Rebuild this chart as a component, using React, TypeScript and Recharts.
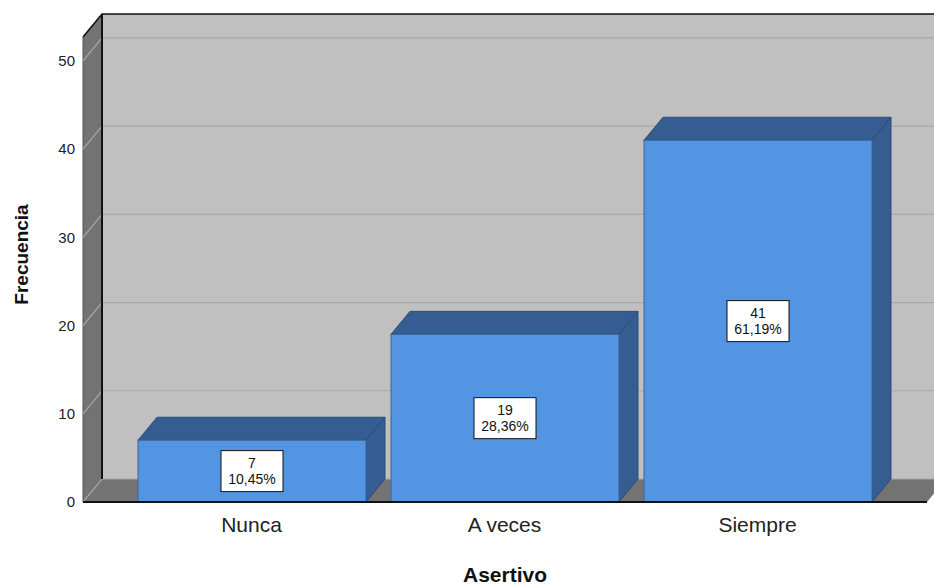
import * as React from 'react';
import { BarChart, Bar, XAxis, YAxis, ReferenceArea, LabelList } from 'recharts';

const categories = ['Nunca', 'A veces', 'Siempre'];
const counts = [7, 19, 41];
const percents = ['10,45%', '28,36%', '61,19%'];
const yTicks = [0, 10, 20, 30, 40, 50];
const yMax = 52.7;

const data = categories.map((name, i) => ({ name, value: counts[i] }));

// depth of the 3D box
const DX = 19;
const DY = 23;
const PAD_L = 42;
const PAD_R = 43;
const FONT = '"Liberation Sans", Arial, sans-serif';

function Walls(props: any) {
  // reference area spans the padded range; widen it back to the full plot
  const x = props.x - PAD_L;
  const width = props.width + PAD_L + PAD_R;
  const { y, height } = props;
  const bottom = y + height;
  const right = x + width;
  const pts = (arr: number[][]) => arr.map((p) => p.join(',')).join(' ');
  return (
    <g>
      <polygon
        points={pts([[x + DX, y - DY], [right + DX, y - DY], [right + DX, bottom - DY], [x + DX, bottom - DY]])}
        fill="#c0c0c0"
      />
      <polygon
        points={pts([[x, y], [x + DX, y - DY], [x + DX, bottom - DY], [x, bottom]])}
        fill="#737373"
        stroke="#555"
        strokeWidth={1}
      />
      <polygon
        points={pts([[x, bottom], [x + DX, bottom - DY], [right + DX, bottom - DY], [right, bottom]])}
        fill="#737373"
      />
      {yTicks.map((t) => {
        const yy = bottom - (t / yMax) * height;
        return (
          <polyline
            key={t}
            points={pts([[x, yy], [x + DX, yy - DY], [right + DX, yy - DY]])}
            fill="none"
            stroke="#a8a8a8"
            strokeWidth={1.2}
          />
        );
      })}
      <polyline
        points={pts([[x, y], [x + DX, y - DY], [right + DX, y - DY]])}
        fill="none"
        stroke="#111"
        strokeWidth={1.5}
      />
      <line x1={x + DX} y1={y - DY} x2={x + DX} y2={bottom - DY} stroke="#111" strokeWidth={2} />
    </g>
  );
}

function Bar3D(props: any) {
  const { x, y, width, height } = props;
  if (!height) return null;
  const pts = (arr: number[][]) => arr.map((p) => p.join(',')).join(' ');
  return (
    <g>
      <polygon
        points={pts([[x, y], [x + DX, y - DY], [x + width + DX, y - DY], [x + width, y]])}
        fill="#355d91"
        stroke="#2c4d78"
        strokeWidth={1}
      />
      <polygon
        points={pts([[x + width, y], [x + width + DX, y - DY], [x + width + DX, y + height - DY], [x + width, y + height]])}
        fill="#355d91"
        stroke="#2c4d78"
        strokeWidth={1}
      />
      <rect x={x} y={y} width={width} height={height} fill="#5394e3" stroke="#3a6496" strokeWidth={1} />
    </g>
  );
}

function BoxLabel(props: any) {
  const { x, y, width, height, index } = props;
  const cx = x + width / 2;
  const cy = y + height / 2;
  const w = 62;
  const h = 41;
  return (
    <g>
      <rect x={cx - w / 2} y={cy - h / 2} width={w} height={h} fill="#fff" stroke="#111" strokeWidth={1} />
      <text x={cx} y={cy - 3} textAnchor="middle" fontSize={14} fontFamily={FONT} fill="#111">
        {counts[index]}
      </text>
      <text x={cx} y={cy + 13} textAnchor="middle" fontSize={14} fontFamily={FONT} fill="#111">
        {percents[index]}
      </text>
    </g>
  );
}

function YTitle(props: any) {
  const { viewBox } = props;
  const cx = viewBox.x + 21;
  const cy = viewBox.y + viewBox.height / 2 - 15;
  return (
    <text
      x={cx}
      y={cy}
      transform={`rotate(-90 ${cx} ${cy})`}
      textAnchor="middle"
      dominantBaseline="central"
      fontSize={19}
      fontWeight="bold"
      fontFamily={FONT}
      fill="#111"
    >
      Frecuencia
    </text>
  );
}

function XTitle(props: any) {
  const { viewBox } = props;
  return (
    <text
      x={viewBox.x + viewBox.width / 2}
      y={viewBox.y + viewBox.height - 3}
      textAnchor="middle"
      fontSize={21}
      fontWeight="bold"
      fontFamily={FONT}
      fill="#111"
    >
      Asertivo
    </text>
  );
}

export default function App() {
  return (
    <div style={{ position: 'absolute', left: 0, top: 0, background: '#fff' }}>
      <BarChart width={934} height={585} data={data} margin={{ top: 37, right: 7, bottom: 0, left: 0 }}>
        <ReferenceArea y1={0} y2={yMax} shape={<Walls />} ifOverflow="visible" />
        <XAxis
          dataKey="name"
          height={83}
          padding={{ left: PAD_L, right: PAD_R }}
          tickLine={false}
          axisLine={{ stroke: '#111', strokeWidth: 2 }}
          tickMargin={9}
          tick={{ fontSize: 21, fontFamily: FONT, fill: '#222' }}
          label={<XTitle />}
        />
        <YAxis
          width={83}
          domain={[0, yMax]}
          ticks={yTicks}
          allowDataOverflow
          axisLine={false}
          tickLine={false}
          tick={{ fontSize: 15, fontFamily: FONT, fill: '#222' }}
          label={<YTitle />}
        />
        <Bar dataKey="value" barSize={228} shape={<Bar3D />} isAnimationActive={false}>
          <LabelList dataKey="value" content={<BoxLabel />} />
        </Bar>
      </BarChart>
    </div>
  );
}
